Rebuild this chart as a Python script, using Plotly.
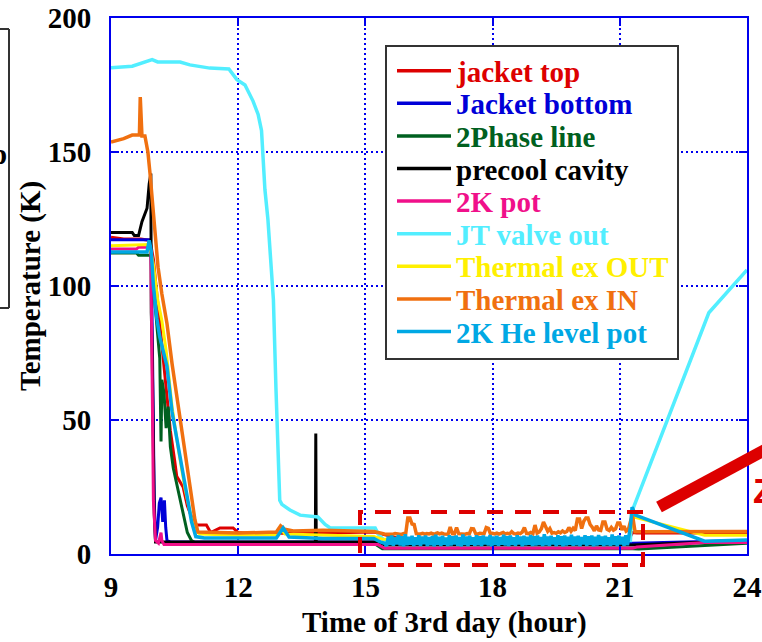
import numpy as np
import plotly.graph_objects as go

# ---------------------------------------------------------------- data
names = ["jacket top", "Jacket bottom", "2Phase line", "precool cavity", "2K pot",
         "JT valve out", "Thermal ex OUT", "Thermal ex IN", "2K He level pot"]
colors = ["#DD0000", "#0000D8", "#006020", "#000000", "#F0108A",
          "#52EEFF", "#FFF000", "#F07010", "#00A8E4"]

x_ticks = [9, 12, 15, 18, 21, 24]
y_ticks = [0, 50, 100, 150, 200]

jacket_top_t = [9.0, 9.3, 9.7, 9.92, 10.0, 10.15, 10.3, 10.4, 10.5, 10.55, 10.7, 10.8,
                10.93, 11.0, 11.25, 11.35, 11.57, 11.88, 12.0, 12.3, 13.0, 14.0, 15.2,
                15.45, 16.0, 21.2, 21.3, 21.4, 24.0]
jacket_top_T = [118.2, 117.5, 117.5, 117, 110, 85, 60, 46, 35, 29, 25, 18,
                12.6, 10.8, 10.8, 8.0, 9.7, 9.7, 8.0, 7.6, 7.7, 7.8, 8.2,
                7.2, 5.0, 5.0, 8.0, 7.8, 7.8]

jacket_bottom_t = [9.0, 9.9, 9.95, 9.98, 10.02, 10.05, 10.1, 10.14, 10.18, 10.22, 10.26,
                   10.29, 10.32, 10.4, 15.3, 15.5, 21.3, 24.0]
jacket_bottom_T = [117.3, 117.3, 112, 60, 20, 5, 10, 19, 21, 12, 20,
                   10, 5, 4.5, 4.5, 4.0, 4.0, 5.0]

two_phase_t = [9.0, 9.6, 9.65, 9.95, 10.0, 10.1, 10.15, 10.18, 10.2, 10.25, 10.3, 10.35,
               10.4, 10.47, 10.55, 10.63, 10.72, 10.8, 10.9, 11.0, 15.2, 15.4, 21.3,
               21.45, 24.0]
two_phase_T = [112.3, 112.3, 111.5, 111.5, 100, 80, 73, 42, 65, 60, 47, 55,
               40, 32, 26, 21, 14, 8, 5, 4, 4, 2.0, 2.0, 1.9, 4.0]

precool_t = [9.0, 9.5, 9.55, 9.65, 9.73, 9.8, 9.85, 9.9, 9.94, 9.95, 9.97, 9.99, 10.02,
             10.05, 13.82, 13.83, 13.84, 15.3, 15.45, 21.3, 24.0]
precool_T = [120, 120, 118.8, 118.8, 124, 127, 129, 138, 142, 90, 77, 52, 15,
             4.5, 4.5, 45, 4.5, 4.5, 3.4, 3.4, 5.0]

pot2k_t = [9.0, 9.6, 9.65, 9.9, 9.94, 9.97, 10.0, 10.05, 10.12, 10.18, 10.2, 10.25,
           15.3, 15.45, 21.3, 21.4, 23.0, 24.0]
pot2k_T = [113.8, 113.8, 114.5, 114.5, 112, 60, 20, 5, 4, 8, 5, 3.5,
           3.5, 2.1, 2.1, 2.6, 4.3, 4.3]

jt_valve_t = [9.0, 9.5, 9.97, 10.1, 10.63, 10.86, 11.33, 11.64, 11.78, 11.97, 12.16,
              12.35, 12.47, 12.55, 12.58, 12.63, 12.7, 12.75, 12.8, 12.83, 12.89, 12.94,
              12.98, 13.03, 13.22, 13.46, 13.88, 14.05, 14.17, 15.23, 15.3, 15.45,
              21.25, 21.29, 23.06, 23.1, 24.0]
jt_valve_T = [181.4, 182, 184.5, 183.6, 183.6, 182.5, 181.3, 181.3, 181, 177, 175,
              169, 164, 158, 151, 136, 125, 113, 104, 95, 62, 38,
              20, 18.5, 16.4, 14.5, 13.8, 11, 9.7, 9.7, 7.5, 5.0,
              5.0, 16, 88, 90, 106]

thermal_out_t = [9.0, 9.9, 9.95, 10.0, 10.1, 10.2, 10.3, 10.44, 10.6, 10.75, 10.9, 11.0,
                 11.1, 12.0, 12.95, 13.0, 13.1, 15.2, 15.4, 21.2, 21.33, 23.0, 24.0]
thermal_out_T = [115, 115.5, 112, 108, 95, 87, 76, 55, 38, 24, 13, 8.5,
                 7.5, 7.0, 7.2, 9.5, 7.5, 6.5, 5.5, 5.5, 13.8, 7.0, 7.0]

# Thermal ex IN: cool-down part, noisy plateau (0.05 h samples), warm-up part
thermal_in_t = [9.0, 9.3, 9.5, 9.67, 9.69, 9.71, 9.73, 9.8, 9.87, 9.92, 9.97, 10.04,
                10.11, 10.2, 10.32, 10.44, 10.58, 10.75, 10.86, 10.98, 11.05, 11.5,
                12.0, 12.9, 13.0, 13.1, 13.3, 14.0, 15.2, 15.45]
thermal_in_T = [153.7, 155, 156.3, 156.3, 170.5, 157, 156, 156, 150, 142, 132, 120,
                107, 97, 86, 71, 56, 38, 25, 12.7, 8.2, 8.0,
                7.8, 8.2, 10.5, 9.2, 8.6, 8.9, 8.4, 7.5]
thermal_in_noise = [
    7.4, 7.3, 7.5, 7.4, 7.6, 7.4, 7.5, 7.3, 7.6, 7.5, 13.4, 13.4, 11.2, 11.0, 7.6, 7.4,
    7.5, 7.7, 7.4, 7.6, 7.5, 7.8, 7.4, 7.6, 7.9, 7.5, 7.8, 7.5, 7.6, 7.4, 10.1, 7.6,
    7.5, 9.9, 7.6, 7.5, 7.7, 7.4, 7.6, 7.5, 9.5, 9.4, 7.6, 7.4, 7.7, 7.5, 7.6, 9.9,
    9.6, 7.5, 7.7, 7.5, 7.8, 7.4, 7.6, 8.0, 7.5, 7.7, 7.5, 8.3, 7.6, 7.5, 7.8, 7.6,
    8.2, 9.9, 7.7, 7.6, 8.0, 7.6, 10.8, 7.8, 8.2, 9.4, 11.9, 10.0, 8.5, 9.5, 7.8, 8.0,
    7.7, 8.3, 7.9, 8.6, 8.0, 8.4, 9.9, 8.5, 9.6, 8.8, 13.1, 13.1, 9.5, 12.2, 13.4, 13.4,
    11.0, 10.0, 8.6, 10.5, 9.0, 8.8, 11.9, 11.9, 9.2, 8.8, 9.9, 8.9, 9.4, 11.6, 11.6, 9.0,
    10.4, 8.5, 9.0]
thermal_in_end_t = [21.25, 21.3, 21.36, 24.0]
thermal_in_end_T = [12.0, 14.5, 8.3, 8.4]

# 2K He level pot: cool-down part, noisy plateau (0.04 h samples), warm-up part
level_pot_t = [9.0, 9.85, 9.9, 9.95, 10.0, 10.08, 10.15, 10.32, 10.44, 10.6, 10.79, 10.9,
               11.0, 11.2, 12.9, 13.06, 13.2, 14.0, 15.2, 15.35, 15.45]
level_pot_T = [112.7, 112.7, 117, 113, 100, 88, 81, 70, 53, 38, 22, 12,
               6.5, 6.0, 6.0, 9.7, 6.3, 5.8, 5.8, 4.5, 4.0]
level_pot_noise = [
    3.0, 6.5, 3.4, 6.9, 3.1, 6.3, 3.6, 7.1, 3.2, 6.6, 2.9, 7.4, 3.3, 6.4,
    3.5, 6.8, 3.0, 6.2, 3.4, 7.0, 3.1, 6.5, 3.7, 6.9, 3.0, 6.3, 3.3, 6.7,
    2.9, 7.2, 3.4, 6.4, 3.1, 6.8, 3.5, 6.1, 3.0, 7.0, 3.2, 6.6, 3.6, 6.9,
    3.1, 6.3, 2.9, 7.3, 3.4, 6.5, 3.0, 6.8, 3.5, 6.2, 3.1, 7.0, 3.3, 6.6,
    3.0, 6.9, 3.6, 6.4, 3.2, 7.1, 2.9, 6.5, 3.4, 6.8, 3.1, 6.3, 3.5, 7.2,
    3.2, 6.6, 3.0, 6.9, 3.4, 6.2, 3.1, 7.0, 3.6, 6.5, 2.9, 6.8, 3.3, 6.4,
    3.5, 7.1, 3.0, 6.6, 3.2, 6.9, 3.4, 6.3, 3.0, 7.4, 3.3, 6.5, 3.1, 6.8,
    3.6, 6.2, 3.0, 7.0, 3.4, 6.6, 2.9, 6.9, 3.2, 6.4, 3.5, 7.2, 3.1, 6.5,
    3.3, 6.8, 3.0, 6.3, 3.6, 7.0, 3.1, 6.6, 3.4, 6.9, 2.9, 6.4, 3.2, 7.1,
    3.5, 6.5, 3.0, 6.8, 3.3, 6.2, 3.1, 7.3, 3.4, 6.6, 3.0, 6.9, 3.6, 6.4,
    3.1, 7.0, 3.3]
level_pot_end_t = [21.25, 21.29, 21.37, 23.0, 24.0]
level_pot_end_T = [10.0, 17.5, 14.5, 4.8, 5.2]

# sample times of the two logged plateaus
t_in_noise = np.round(15.5 + 0.05 * np.arange(len(thermal_in_noise)), 3)
t_lp_noise = np.round(15.5 + 0.04 * np.arange(len(level_pot_noise)), 3)

series = [
    (jacket_top_t, jacket_top_T),
    (jacket_bottom_t, jacket_bottom_T),
    (two_phase_t, two_phase_T),
    (precool_t, precool_T),
    (pot2k_t, pot2k_T),
    (jt_valve_t, jt_valve_T),
    (thermal_out_t, thermal_out_T),
    (thermal_in_t + list(t_in_noise) + thermal_in_end_t,
     thermal_in_T + thermal_in_noise + thermal_in_end_T),
    (level_pot_t + list(t_lp_noise) + level_pot_end_t,
     level_pot_T + level_pot_noise + level_pot_end_T),
]
widths = [3, 3, 3, 3, 3, 3.5, 3, 3.5, 3.5]

# ---------------------------------------------------------------- figure
L, R, T, B = 111, 747, 18, 554          # plot area in pixels


def px(x):
    return (x - L) / (R - L)


def py(y):
    return (B - y) / (B - T)


fig = go.Figure()
for name, color, (t, v), w in zip(names, colors, series, widths):
    fig.add_trace(go.Scatter(x=t, y=v, mode="lines", name=name,
                             line=dict(color=color, width=w), showlegend=False))

SERIF = "Liberation Serif"
BLUE = "#0000EE"
RED = "#DD0000"

axis_common = dict(showline=True, linecolor=BLUE, linewidth=2, mirror="ticks",
                   ticks="inside", ticklen=8, tickwidth=2, tickcolor=BLUE,
                   showgrid=True, gridcolor=BLUE, gridwidth=1.5, griddash="2px,3px",
                   zeroline=False, automargin=False,
                   tickfont=dict(family=SERIF, size=29, color="black", weight="bold"))
fig.update_xaxes(range=[9, 24], tickvals=x_ticks, ticktext=[str(v) for v in x_ticks],
                 ticklabelstandoff=6, **axis_common)
fig.update_yaxes(range=[0, 200], tickvals=y_ticks, ticktext=[str(v) for v in y_ticks],
                 ticklabelstandoff=12, **axis_common)

shapes = []
annotations = []

# legend box
shapes.append(dict(type="rect", xref="paper", yref="paper", layer="above",
                   x0=px(386), x1=px(678), y0=py(359), y1=py(46),
                   line=dict(color="#333333", width=2), fillcolor="white"))
for i, (name, color) in enumerate(zip(names, colors)):
    yc = 70.7 + 32.6 * i
    shapes.append(dict(type="line", xref="paper", yref="paper", layer="above",
                       x0=px(397), x1=px(451), y0=py(yc), y1=py(yc),
                       line=dict(color=color, width=3.5)))
    annotations.append(dict(xref="paper", yref="paper", x=px(454), y=py(yc + 1),
                            xanchor="left", yanchor="middle", showarrow=False,
                            text=f"<b>{name}</b>",
                            font=dict(family=SERIF, size=29, color=color)))

# dashed zoom window and pointer
shapes.append(dict(type="rect", xref="paper", yref="paper", layer="above",
                   x0=px(360), x1=px(643), y0=py(565), y1=py(512),
                   line=dict(color=RED, width=4, dash="16px,12px")))
shapes.append(dict(type="line", xref="paper", yref="paper", layer="above",
                   x0=px(659), y0=py(507), x1=px(800), y1=py(431),
                   line=dict(color=RED, width=12)))
annotations.append(dict(xref="paper", yref="paper", x=px(751), y=py(490),
                        xanchor="left", yanchor="middle", showarrow=False,
                        text="<b>Zoom</b>",
                        font=dict(family="Liberation Sans", size=35, color=RED)))

# neighbouring panel frame at the left edge
for (x0, y0, x1, y1) in [(-5, 29, 9, 29), (9, 29, 9, 308), (-5, 308, 9, 308)]:
    shapes.append(dict(type="line", xref="paper", yref="paper",
                       x0=px(x0), y0=py(y0), x1=px(x1), y1=py(y1),
                       line=dict(color="#333333", width=2)))
annotations.append(dict(xref="paper", yref="paper", x=px(9), y=py(154),
                        xanchor="right", yanchor="middle", showarrow=False,
                        text="<b>p</b>", font=dict(family=SERIF, size=29, color="black")))

# axis titles
annotations.append(dict(xref="paper", yref="paper", x=px(444), y=py(622),
                        xanchor="center", yanchor="middle", showarrow=False,
                        text="<b>Time of 3rd day (hour)</b>",
                        font=dict(family=SERIF, size=29, color="black")))
annotations.append(dict(xref="paper", yref="paper", x=px(30), y=py(286),
                        xanchor="center", yanchor="middle", showarrow=False,
                        textangle=-90, text="<b>Temperature (K)</b>",
                        font=dict(family=SERIF, size=29, color="black")))

fig.update_layout(width=762, height=642,
                  margin=dict(l=L, r=762 - R, t=T, b=642 - B, pad=0, autoexpand=False),
                  plot_bgcolor="white", paper_bgcolor="white", showlegend=False,
                  font=dict(family=SERIF, size=29, color="black"),
                  shapes=shapes, annotations=annotations)

fig.write_html("out.html")
